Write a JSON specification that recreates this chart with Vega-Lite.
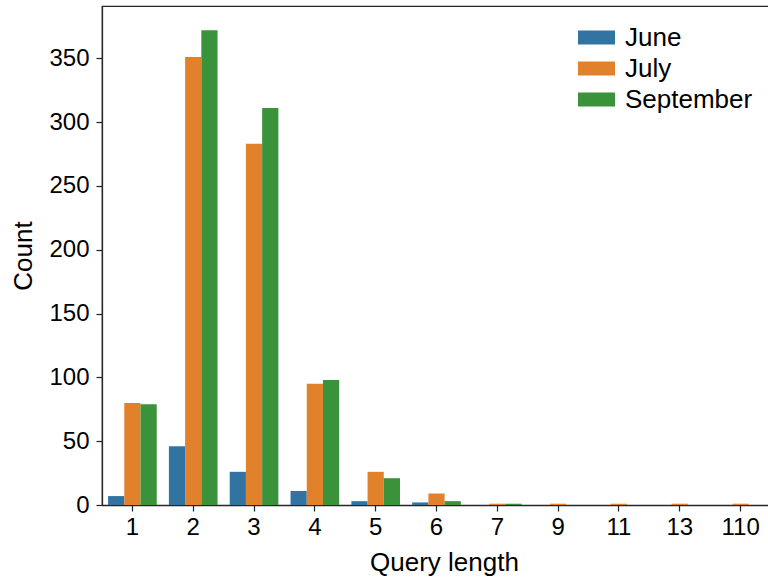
{
  "$schema": "https://vega.github.io/schema/vega-lite/v6.json",
  "width": 669,
  "height": 499,
  "autosize": {"type": "none"},
  "padding": {"left": 102, "top": 6, "right": 0, "bottom": 74},
  "background": "white",
  "config": {
    "font": "Liberation Sans",
    "view": {"stroke": "#262626", "strokeWidth": 1.25},
    "axis": {"grid": false, "domainColor": "#262626", "domainWidth": 1.25, "tickColor": "#262626", "tickWidth": 1.25, "tickSize": 6, "labelColor": "#000", "titleColor": "#000", "titleFontWeight": "normal", "labelFont": "Liberation Sans", "titleFont": "Liberation Sans"}
  },
  "data": {
    "values": [
      {"len": "1", "month": "June", "count": 7},
      {"len": "1", "month": "July", "count": 80},
      {"len": "1", "month": "September", "count": 79},
      {"len": "2", "month": "June", "count": 46},
      {"len": "2", "month": "July", "count": 351},
      {"len": "2", "month": "September", "count": 372},
      {"len": "3", "month": "June", "count": 26},
      {"len": "3", "month": "July", "count": 283},
      {"len": "3", "month": "September", "count": 311},
      {"len": "4", "month": "June", "count": 11},
      {"len": "4", "month": "July", "count": 95},
      {"len": "4", "month": "September", "count": 98},
      {"len": "5", "month": "June", "count": 3},
      {"len": "5", "month": "July", "count": 26},
      {"len": "5", "month": "September", "count": 21},
      {"len": "6", "month": "June", "count": 2},
      {"len": "6", "month": "July", "count": 9},
      {"len": "6", "month": "September", "count": 3},
      {"len": "7", "month": "June", "count": 0},
      {"len": "7", "month": "July", "count": 1},
      {"len": "7", "month": "September", "count": 1},
      {"len": "9", "month": "June", "count": 0},
      {"len": "9", "month": "July", "count": 1},
      {"len": "9", "month": "September", "count": 0},
      {"len": "11", "month": "June", "count": 0},
      {"len": "11", "month": "July", "count": 1},
      {"len": "11", "month": "September", "count": 0},
      {"len": "13", "month": "June", "count": 0},
      {"len": "13", "month": "July", "count": 1},
      {"len": "13", "month": "September", "count": 0},
      {"len": "110", "month": "June", "count": 0},
      {"len": "110", "month": "July", "count": 1},
      {"len": "110", "month": "September", "count": 0}
    ]
  },
  "mark": {"type": "bar"},
  "encoding": {
    "x": {
      "field": "len", "type": "ordinal",
      "sort": ["1","2","3","4","5","6","7","9","11","13","110"],
      "scale": {"paddingInner": 0.2, "paddingOuter": 0.1},
      "axis": {"title": "Query length", "labelAngle": 0, "labelFontSize": 24, "titleFontSize": 26, "labelPadding": 4, "titlePadding": 10, "titleX": 342}
    },
    "xOffset": {"field": "month", "type": "nominal", "sort": ["June", "July", "September"]},
    "y": {
      "field": "count", "type": "quantitative",
      "scale": {"domain": [0, 391], "nice": false},
      "axis": {"title": "Count", "values": [0,50,100,150,200,250,300,350], "labelFontSize": 24, "titleFontSize": 26, "labelPadding": 7, "titlePadding": 12}
    },
    "color": {
      "field": "month", "type": "nominal",
      "sort": ["June", "July", "September"],
      "scale": {"domain": ["June", "July", "September"], "range": ["#3274a1", "#e1812c", "#3a923a"]},
      "legend": {
        "title": null,
        "orient": "none",
        "legendX": 480,
        "legendY": 17,
        "symbolType": "M-1.3,-0.5H1.3V0.5H-1.3Z",
        "symbolSize": 812,
        "symbolStrokeWidth": 0,
        "labelFontSize": 26,
        "labelColor": "#000",
        "labelOffset": 14,
        "rowPadding": 3
      }
    }
  }
}
